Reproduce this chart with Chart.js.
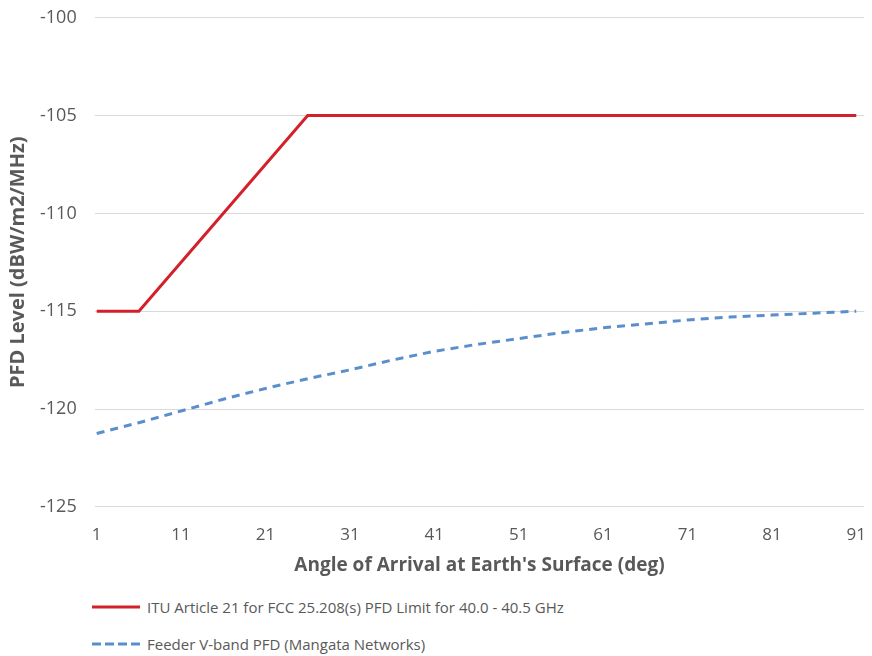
<!DOCTYPE html>
<html>
<head>
<meta charset="utf-8">
<script src="https://cdn.jsdelivr.net/npm/chart.js@4"></script>
<style>
  body { margin: 0; background: #fff; overflow: hidden; }
  #wrap { position: absolute; left: 0; top: -11px; width: 876px; height: 596px; }
  #legend { position: absolute; left: 92px; top: 588px; font-family: "Open Sans", sans-serif; font-size: 15px; color: #595959; }
  .row { display: flex; align-items: center; height: 37px; }
  .row svg { margin-right: 7px; }
</style>
</head>
<body>
<div id="wrap"><canvas id="myChart"></canvas></div>
<div id="legend"></div>
<script>
// angle of arrival (x) and pfd levels
const ituAngles = [1, 6, 26, 91];
const ituLevels = [-115, -115, -105, -105];

const feederAngles = [1, 6, 11, 16, 21, 26, 31, 36, 41, 46, 51, 56, 61, 66, 71, 76, 81, 86, 91];
const feederLevels = [-121.25, -120.7, -120.1, -119.5, -118.95, -118.45, -118.0, -117.5, -117.05, -116.7,
                      -116.4, -116.1, -115.85, -115.65, -115.45, -115.3, -115.2, -115.1, -115.0];

const xTicks = [1, 11, 21, 31, 41, 51, 61, 71, 81, 91];
const yTicks = [-125, -120, -115, -110, -105, -100];

const seriesNames = [
    'ITU Article 21 for FCC 25.208(s) PFD Limit for 40.0 - 40.5 GHz',
    'Feeder V-band PFD (Mangata Networks)'
];

const textColor = '#595959';

function toPoints(xs, ys){
    return xs.map((x, i) => ({x: x, y: ys[i]}));
}

function chart(){
    const ctx = document.getElementById('myChart').getContext('2d');

    const data = {
        datasets: [{
            label: seriesNames[0],
            data: toPoints(ituAngles, ituLevels),
            borderColor: '#d4202a',
            borderWidth: 3,
            pointRadius: 0
        }, {
            label: seriesNames[1],
            data: toPoints(feederAngles, feederLevels),
            borderColor: '#5b8fcc',
            borderWidth: 3,
            borderDash: [8, 6],
            pointRadius: 0
        }]
    };

    const config = {
        type: 'line',
        data: data,
        options: {
            responsive: true,
            maintainAspectRatio: false,
            animation: false,
            layout: { padding: { top: 0, right: 0, bottom: 8, left: 0 } },
            plugins: {
                legend: { display: false },
                tooltip: { enabled: false }
            },
            scales: {
                x: {
                    type: 'linear',
                    min: 0.76,
                    max: 91.95,
                    afterBuildTicks: (scale) => { scale.ticks = xTicks.map(v => ({value: v})); },
                    grid: { display: false },
                    border: { display: false },
                    ticks: { color: textColor, font: { family: 'Open Sans', size: 17 }, padding: 10, maxRotation: 0, autoSkip: false },
                    title: {
                        display: true,
                        text: "Angle of Arrival at Earth's Surface (deg)",
                        color: textColor,
                        font: { family: 'Open Sans', size: 19, weight: 'bold' },
                        padding: { top: -1, bottom: 0 }
                    }
                },
                y: {
                    min: -125,
                    max: -100,
                    afterBuildTicks: (scale) => { scale.ticks = yTicks.map(v => ({value: v})); },
                    grid: { color: '#d9d9d9', lineWidth: 1, drawTicks: false },
                    border: { display: false },
                    ticks: { color: textColor, font: { family: 'Open Sans', size: 18 }, padding: 18 },
                    title: {
                        display: true,
                        text: 'PFD Level (dBW/m2/MHz)',
                        color: textColor,
                        font: { family: 'Open Sans', size: 20, weight: 'bold' },
                        padding: { top: 6, bottom: -8 }
                    }
                }
            }
        }
    };

    return new Chart(ctx, config);
}

function legend(myChart){
    const box = document.getElementById('legend');
    myChart.data.datasets.forEach(ds => {
        const row = document.createElement('div');
        row.className = 'row';
        const dash = ds.borderDash ? ' stroke-dasharray="9 4"' : '';
        row.innerHTML = '<svg width="48" height="6"><line x1="0" y1="3" x2="48" y2="3" stroke="' + ds.borderColor +
            '" stroke-width="3"' + dash + '/></svg>';
        const txt = document.createElement('span');
        txt.textContent = ds.label;
        row.appendChild(txt);
        box.appendChild(row);
    });
}

legend(chart());
</script>
</body>
</html>
